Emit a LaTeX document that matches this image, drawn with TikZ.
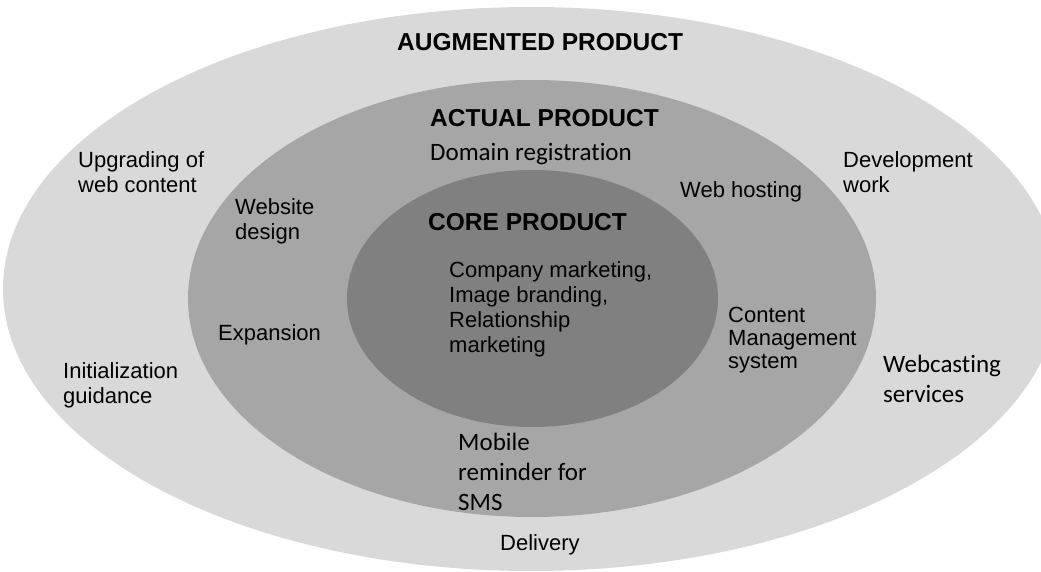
\documentclass[tikz,border=0pt]{standalone}
\usepackage{fontspec}
\setmainfont{Liberation Sans}
\newfontfamily\calfont[Ligatures={NoCommon}]{Carlito}
\definecolor{outerc}{HTML}{D9D9D9}
\definecolor{midc}{HTML}{A6A6A6}
\definecolor{innerc}{HTML}{808080}
\begin{document}
\begin{tikzpicture}[x=1pt,y=-1pt,
  lbl/.style={anchor=base west, inner sep=0pt, align=left, font=\fontsize{22}{25}\selectfont},
  cal/.style={anchor=base west, inner sep=0pt, align=left, font=\calfont\fontsize{25}{30}\selectfont},
  head/.style={anchor=base west, inner sep=0pt, font=\fontsize{24.5}{28}\selectfont\bfseries}]
\useasboundingbox (0,0) rectangle (1041,572);
\begin{scope}
\clip (0,0) rectangle (1041,572);
\fill[outerc] (531,289) ellipse [x radius=528, y radius=282];
\fill[midc] (532,298.5) ellipse [x radius=344, y radius=218.5];
\fill[innerc] (532.5,298.5) ellipse [x radius=185.5, y radius=128.5];
\end{scope}
% headings
\node[head] (aug) at (397,51) {AUGMENTED PRODUCT};
\node[head] (act) at (430,127) {ACTUAL PRODUCT};
\node[head] (core) at (428,230) {CORE PRODUCT};
% augmented ring (base anchor = baseline of last line)
\node[lbl] (upg) at (78,193) {Upgrading of\\web content};
\node[lbl] (init) at (63,403) {Initialization\\guidance};
\node[lbl] (dev) at (843,193) {Development\\work};
\node[cal] (webc) at (883,402) {Webcasting\\services};
\node[lbl] (deliv) at (500,550) {Delivery};
% actual ring
\node[cal] (dom) at (430,161) {Domain registration};
\node[lbl] (webd) at (235,240) {Website\\design};
\node[lbl] (host) at (680,197) {Web hosting};
\node[lbl] (exp) at (218,340) {Expansion};
\node[lbl, font=\fontsize{22}{23}\selectfont] (cms) at (728,368) {Content\\Management\\system};
\node[cal] (mob) at (458,510) {Mobile\\reminder for\\SMS};
% core
\node[lbl] (corec) at (449,352) {Company marketing,\\Image branding,\\Relationship\\marketing};
\end{tikzpicture}
\end{document}
